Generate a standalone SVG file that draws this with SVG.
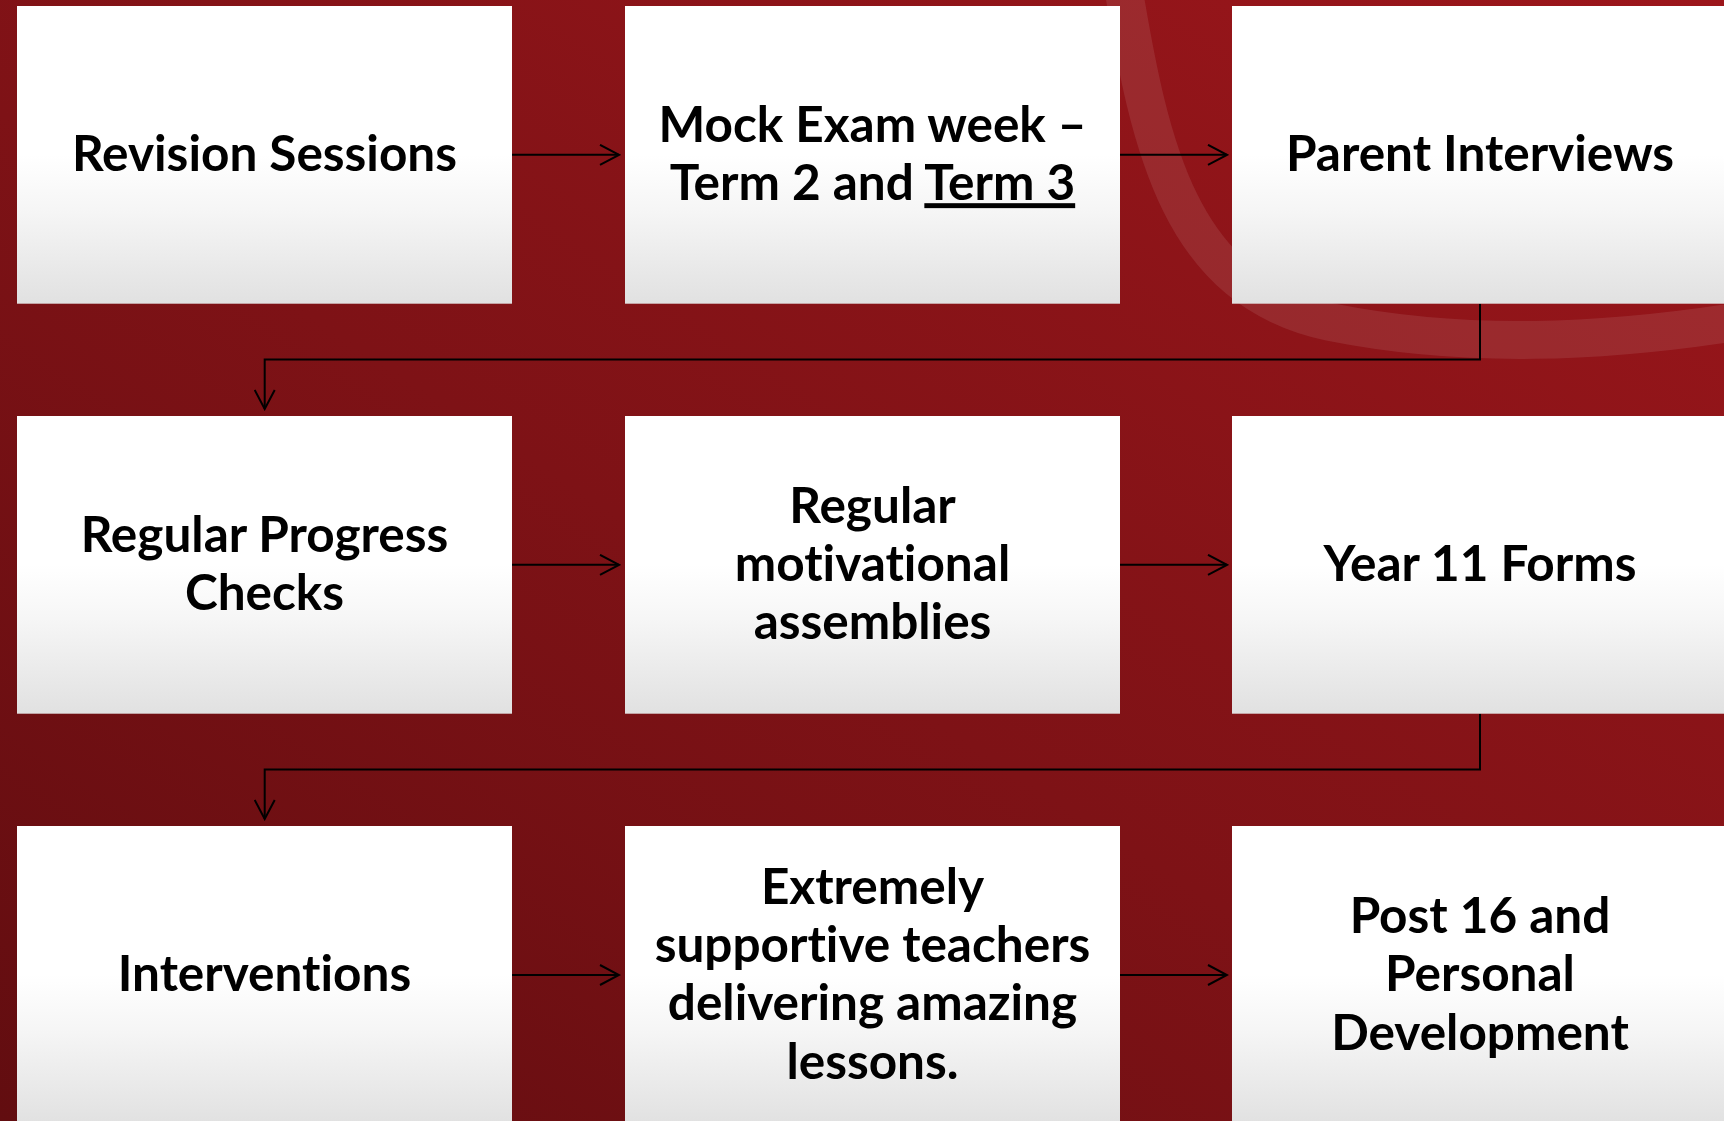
<svg xmlns="http://www.w3.org/2000/svg" width="1724" height="1121" viewBox="0 0 1724 1121">
  <defs>
    <linearGradient id="bg" x1="0" y1="1" x2="1" y2="0">
      <stop offset="0" stop-color="#620d10"/>
      <stop offset="0.45" stop-color="#7e1216"/>
      <stop offset="1" stop-color="#9c161b"/>
    </linearGradient>
    <linearGradient id="boxfill" x1="0" y1="0" x2="0" y2="1">
      <stop offset="0" stop-color="#ffffff"/>
      <stop offset="0.5" stop-color="#ffffff"/>
      <stop offset="0.68" stop-color="#f6f6f6"/>
      <stop offset="1" stop-color="#e1e1e1"/>
    </linearGradient>
    <marker id="arrow" viewBox="0 0 22 22" refX="20" refY="11" markerWidth="22" markerHeight="22" markerUnits="userSpaceOnUse" orient="auto">
      <path d="M1,1 L20,11 L1,21" fill="none" stroke="#000" stroke-width="2"/>
    </marker>
  </defs>
  <style>
    .box { fill: url(#boxfill); }
    .label { font-family: "Lato", "Liberation Sans", sans-serif; font-weight: 700; font-size: 49.5px; fill: #000; text-anchor: middle; font-variant-ligatures: none; font-feature-settings: "liga" 0, "clig" 0; }
    .conn { fill: none; stroke: #000; stroke-width: 2; marker-end: url(#arrow); }
  </style>

  <rect x="0" y="0" width="1724" height="1121" fill="url(#bg)"/>
  <path d="M1122,-20 C1150,150 1180,290 1330,322 C1460,348 1600,345 1760,318" fill="none" stroke="#ffffff" stroke-opacity="0.09" stroke-width="38"/>

  <g id="connectors">
    <line class="conn" x1="512" y1="154.8" x2="619" y2="154.8"/>
    <line class="conn" x1="1120" y1="154.8" x2="1227" y2="154.8"/>
    <polyline class="conn" points="1480,303.7 1480,359.5 264.7,359.5 264.7,409"/>
    <line class="conn" x1="512" y1="564.8" x2="619" y2="564.8"/>
    <line class="conn" x1="1120" y1="564.8" x2="1227" y2="564.8"/>
    <polyline class="conn" points="1480,713.7 1480,769.5 264.7,769.5 264.7,819"/>
    <line class="conn" x1="512" y1="975" x2="619" y2="975"/>
    <line class="conn" x1="1120" y1="975" x2="1227" y2="975"/>
  </g>

  <g id="revision-sessions">
    <rect class="box" x="17" y="6" width="495" height="297.7"/>
    <text class="label" x="264.5" y="171">Revision Sessions</text>
  </g>
  <g id="mock-exam-week">
    <rect class="box" x="625" y="6" width="495" height="297.7"/>
    <text class="label" x="872.5" y="141.9">Mock Exam week –</text>
    <text class="label" x="872.5" y="200.2">Term 2 and <tspan text-decoration="underline">Term 3</tspan></text>
  </g>
  <g id="parent-interviews">
    <rect class="box" x="1232" y="6" width="495" height="297.7"/>
    <text class="label" x="1480" y="171">Parent Interviews</text>
  </g>

  <g id="regular-progress-checks">
    <rect class="box" x="17" y="416" width="495" height="297.7"/>
    <text class="label" x="264.5" y="551.9">Regular Progress</text>
    <text class="label" x="264.5" y="610.2">Checks</text>
  </g>
  <g id="regular-motivational-assemblies">
    <rect class="box" x="625" y="416" width="495" height="297.7"/>
    <text class="label" x="872.5" y="522.7">Regular</text>
    <text class="label" x="872.5" y="581">motivational</text>
    <text class="label" x="872.5" y="639.3">assemblies</text>
  </g>
  <g id="year-11-forms">
    <rect class="box" x="1232" y="416" width="495" height="297.7"/>
    <text class="label" x="1480" y="581">Year 11 Forms</text>
  </g>

  <g id="interventions">
    <rect class="box" x="17" y="826" width="495" height="297.7"/>
    <text class="label" x="264.5" y="991.2">Interventions</text>
  </g>
  <g id="supportive-teachers">
    <rect class="box" x="625" y="826" width="495" height="297.7"/>
    <text class="label" x="872.5" y="903.8">Extremely</text>
    <text class="label" x="872.5" y="962.1">supportive teachers</text>
    <text class="label" x="872.5" y="1020.4">delivering amazing</text>
    <text class="label" x="872.5" y="1078.7">lessons.</text>
  </g>
  <g id="post-16">
    <rect class="box" x="1232" y="826" width="495" height="297.7"/>
    <text class="label" x="1480" y="932.9">Post 16 and</text>
    <text class="label" x="1480" y="991.2">Personal</text>
    <text class="label" x="1480" y="1049.5">Development</text>
  </g>
</svg>
